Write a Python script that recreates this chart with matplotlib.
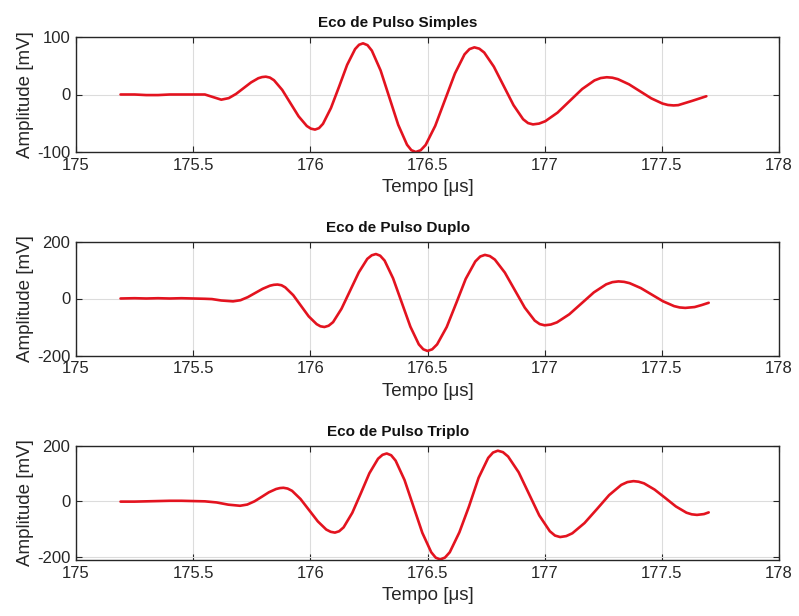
import matplotlib
matplotlib.use("Agg")
import matplotlib.pyplot as plt

plt.rcParams['font.family'] = ['Liberation Sans', 'DejaVu Sans']
plt.rcParams['axes.unicode_minus'] = False

titles = ["Eco de Pulso Simples", "Eco de Pulso Duplo", "Eco de Pulso Triplo"]
xlabel = "Tempo [μs]"
ylabel = "Amplitude [mV]"
xticks = [175, 175.5, 176, 176.5, 177, 177.5, 178]
xtick_labels = ["175", "175.5", "176", "176.5", "177", "177.5", "178"]

t_simples = [175.19, 175.25, 175.30, 175.35, 175.40, 175.45, 175.50, 175.55, 175.585, 175.62,
             175.652, 175.683, 175.715, 175.747, 175.778, 175.794, 175.81,
             175.8275, 175.845, 175.88, 175.915, 175.95, 175.985, 176.0025, 176.02,
             176.037, 176.054, 176.088, 176.123, 176.157, 176.191, 176.208, 176.225,
             176.244, 176.2625, 176.30, 176.3375, 176.375, 176.4125, 176.431, 176.45,
             176.471, 176.492, 176.533, 176.575, 176.617, 176.658, 176.679, 176.70,
             176.721, 176.742, 176.783, 176.825, 176.867, 176.908, 176.929, 176.95,
             176.976, 177.0025, 177.055, 177.1075, 177.16, 177.2125, 177.239, 177.265,
             177.289, 177.3125, 177.36, 177.4075, 177.455, 177.5025, 177.526, 177.55,
             177.57, 177.59, 177.63, 177.66, 177.69]
v_simples = [0, 0, -1, -1, 0, 0, 0, 0, -4.5, -9,
             -6.3, 1, 11, 21, 28.3, 30.3, 31,
             29.4, 24.8, 8, -15, -38, -54.8, -59.4, -61,
             -58.5, -51, -23.5, 14, 51.5, 79, 86.5, 89,
             85.8, 76.3, 41.7, -5.5, -52.7, -87.3, -96.8, -100,
             -96.9, -87.8, -54.5, -9, 36.5, 69.8, 78.9, 82,
             79.7, 73, 48.5, 15, -18.5, -43, -49.7, -52,
             -50.6, -46.5, -31.5, -11, 9.5, 24.5, 28.6, 30,
             29.2, 26.7, 17.7, 5.5, -6.7, -15.7, -18.2, -19,
             -18.5, -16, -11, -7, -3]

t_duplo = [175.19, 175.25, 175.30, 175.35, 175.40, 175.45, 175.50, 175.55, 175.58, 175.62, 175.67,
           175.702, 175.733, 175.765, 175.797, 175.828, 175.844, 175.86,
           175.877, 175.893, 175.927, 175.96, 175.993, 176.027, 176.043, 176.06,
           176.078, 176.097, 176.133, 176.17, 176.207, 176.243, 176.262, 176.28,
           176.298, 176.317, 176.353, 176.39, 176.427, 176.463, 176.482, 176.50,
           176.520, 176.541, 176.582, 176.623, 176.663, 176.704, 176.725, 176.745,
           176.766, 176.7875, 176.83, 176.8725, 176.915, 176.9575, 176.979, 177.0,
           177.026, 177.0525, 177.105, 177.1575, 177.21, 177.2625, 177.289, 177.315,
           177.339, 177.3625, 177.41, 177.4575, 177.505, 177.5525, 177.576, 177.60,
           177.64, 177.67, 177.70]
v_duplo = [0, 1, 0, 1, 0, 1, 0, -1, -2, -7, -10,
           -6, 4.7, 19.5, 34.2, 45, 48, 49,
           46.5, 39, 11.7, -25.5, -62.7, -90, -97.5, -100,
           -95.6, -83, -36, 28, 92, 139, 151.6, 156,
           150.2, 133, 71, -14, -99, -161, -178.2, -184,
           -178.3, -161, -100, -15.5, 68.7, 130, 147.3, 153,
           148.8, 136.5, 91, 29.5, -32, -77.5, -89.8, -94,
           -91.4, -83.7, -55.5, -17, 21.5, 49.7, 57.4, 60,
           58.4, 53.8, 36.7, 13.5, -9.7, -26.8, -31.4, -33,
           -30, -23, -15]

t_triplo = [175.19, 175.25, 175.30, 175.35, 175.40, 175.45, 175.50, 175.55, 175.60, 175.65, 175.70,
            175.731, 175.762, 175.793, 175.823, 175.854, 175.870, 175.885,
            175.903, 175.922, 175.958, 175.995, 176.032, 176.068, 176.087, 176.105,
            176.123, 176.142, 176.179, 176.216, 176.252, 176.289, 176.308, 176.326,
            176.345, 176.364, 176.402, 176.44, 176.478, 176.516, 176.535, 176.554,
            176.5745, 176.595, 176.636, 176.677, 176.718, 176.759, 176.7795, 176.80,
            176.822, 176.844, 176.889, 176.933, 176.977, 177.022, 177.044, 177.066,
            177.092, 177.118, 177.170, 177.223, 177.275, 177.327, 177.353, 177.379,
            177.401, 177.424, 177.469, 177.515, 177.560, 177.605, 177.6275, 177.65,
            177.68, 177.70]
v_triplo = [-1, -1, 0, 1, 2, 2, 1, 0, -4, -12, -16,
            -11.6, 0.2, 16.5, 32.7, 44.6, 47.9, 49,
            46.2, 38, 8.5, -32, -72.5, -102, -110.2, -113,
            -108.1, -94, -41.5, 30, 101.5, 154, 168.1, 173,
            166.5, 147, 77, -18.5, -114, -184, -203.5, -210,
            -203.3, -184, -112, -18.5, 85, 157, 176.3, 183,
            177.7, 162, 105, 27, -51, -108, -123.7, -129,
            -125.6, -115.5, -78.5, -28, 22.5, 59.5, 69.6, 73,
            70.9, 65, 42.5, 12, -18.5, -41, -46.9, -49,
            -46, -40]

series_t = [t_simples, t_duplo, t_triplo]
series_v = [v_simples, v_duplo, v_triplo]
ylims = [(-100, 100), (-200, 200), (-212, 200)]
yticks = [[-100, 0, 100], [-200, 0, 200], [-200, 0, 200]]

W, H = 799, 616
fig = plt.figure(figsize=(W / 100, H / 100), dpi=100)
tops = [37, 241.5, 446]
bots = [152, 355.5, 560]
left, right = 76, 779
txt = '#262626'
for i in range(3):
    ax = fig.add_axes([left / W, 1 - bots[i] / H, (right - left) / W, (bots[i] - tops[i]) / H])
    ax.plot(series_t[i], series_v[i], color='#e3131f', lw=1.9,
            solid_joinstyle='round', solid_capstyle='round')
    ax.set_xlim(175, 178)
    ax.set_ylim(*ylims[i])
    ax.set_xticks(xticks)
    ax.set_xticklabels(xtick_labels)
    ax.set_yticks(yticks[i])
    ax.grid(True, color='#dcdcdc', lw=0.8)
    ax.set_axisbelow(True)
    ax.tick_params(direction='in', length=4, width=0.8, top=True, right=True,
                   labelsize=12, colors=txt, pad=4)
    for s in ax.spines.values():
        s.set_color(txt)
        s.set_linewidth(1.0)
    ax.set_xlabel(xlabel, fontsize=13.5, color=txt, labelpad=5)
    ax.set_ylabel(ylabel, fontsize=13.5, color=txt, labelpad=2)
    ax.set_title(titles[i], fontsize=11, fontweight='bold', color='#111111',
                 x=(398 - left) / (right - left), pad=7)

fig.savefig("out.png", dpi=100)
